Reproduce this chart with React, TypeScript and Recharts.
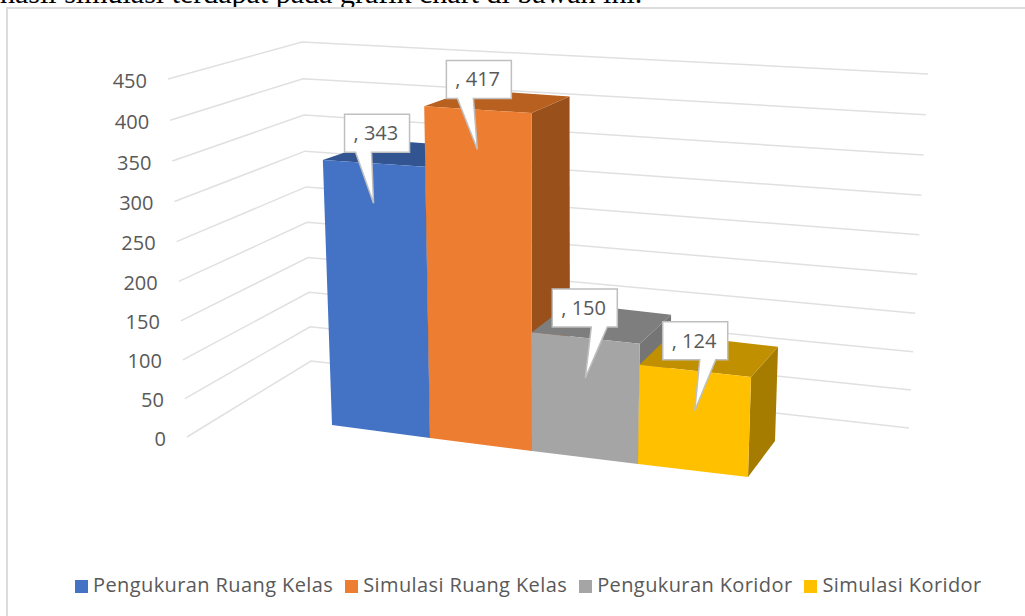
import { Bar, BarChart, CartesianGrid, LabelList, Legend, XAxis, YAxis } from "recharts"

const seriesNames = ["Pengukuran Ruang Kelas", "Simulasi Ruang Kelas", "Pengukuran Koridor", "Simulasi Koridor"]
const seriesValues = [343, 417, 150, 124]
const yTicks = [0, 50, 100, 150, 200, 250, 300, 350, 400, 450]

const frontColors = ["#4472C4", "#ED7D31", "#A5A5A5", "#FFC000"]
const topColors = ["#325591", "#B8601F", "#7E7E7E", "#C09000"]
const sideColors = ["#2A4778", "#99501A", "#757575", "#A67C00"]

// callout box offset from its pointer tip, per series
const calloutShift = [-29, -31, -33, -32]
const tailStart = [11, 11, 39, 37]

const yMax = 450
const textColor = "#595959"
const font = "'Open Sans', sans-serif"

const data = [
  seriesNames.reduce<Record<string, string | number>>(
    (row, name, i) => {
      row[name] = seriesValues[i]
      return row
    },
    { name: "" },
  ),
]

// the picture is a 3D perspective view, so flat scale positions get mapped onto it
const bend = (t: number) => 0.96 * t + 0.04 * t * t

const front = (u: number, t: number) => {
  const g = bend(t)
  return {
    x: 332 + 384 * u + 32 * u * u + (-12 + 23 * u) * t,
    y: 425 + 52 * u - (351 + 36 * u - 13 * u * u) * g,
  }
}

const back = (u: number, t: number) => {
  const p = front(u, t)
  return { x: p.x + 58 - 49 * u + 18 * u * u, y: p.y - (36 - 21 * t) }
}

const wallStart = (t: number) => ({ x: 187 - 19 * bend(t), y: 437 - 358 * bend(t) })
const wallCorner = (t: number) => ({ x: 311 - 9 * bend(t), y: 361 - 319 * bend(t) })
const wallEnd = (t: number) => ({ x: 909 + 19 * bend(t), y: 428 - 354 * bend(t) })

type Pt = { x: number; y: number }
const pts = (list: Pt[]) => list.map((p) => `${p.x},${p.y}`).join(" ")

function Bar3D(props: any) {
  const { height, background, series } = props
  const t = height / background.height
  const u0 = series / seriesNames.length
  const u1 = (series + 1) / seriesNames.length
  return (
    <g>
      <polygon
        points={pts([front(u1, t), front(u1, 0), back(u1, 0), back(u1, t)])}
        fill={sideColors[series]}
      />
      <polygon
        points={pts([front(u0, t), front(u1, t), back(u1, t), back(u0, t)])}
        fill={topColors[series]}
      />
      <polygon
        points={pts([front(u0, 0), front(u1, 0), front(u1, t), front(u0, t)])}
        fill={frontColors[series]}
      />
    </g>
  )
}

function Callout({ value, series }: any) {
  const u = (series + 0.5) / seriesNames.length
  const top = front(u, Number(value) / yMax)
  const tipX = top.x
  const tipY = top.y + 40
  const left = tipX + calloutShift[series]
  const boxTop = tipY - 89
  const bottom = boxTop + 38
  const right = left + 65
  const tail = left + tailStart[series]
  const d = `M${left},${boxTop} H${right} V${bottom} H${tail + 16} L${tipX},${tipY} L${tail},${bottom} H${left} Z`
  return (
    <g>
      <path d={d} fill="#fff" stroke="#bfbfbf" strokeWidth={1.5} />
      <text x={left + 9} y={boxTop + 26} fontSize={20} fontFamily={font} fill={textColor}>
        {`, ${value}`}
      </text>
    </g>
  )
}

function WallLine(props: any) {
  const { y, height, y1 } = props
  const t = (y + height - y1) / height
  return (
    <polyline
      points={pts([wallStart(t), wallCorner(t), wallEnd(t)])}
      fill="none"
      stroke="#e0e0e0"
      strokeWidth={1.5}
    />
  )
}

function WallTick({ payload }: any) {
  const p = wallStart(payload.value / yMax)
  return (
    <text x={p.x - 21} y={p.y + 8.5} textAnchor="end" fontSize={20} fontFamily={font} fill={textColor}>
      {payload.value}
    </text>
  )
}

export default function App() {
  return (
    <div style={{ position: "absolute", left: 0, top: 0, width: 1025, height: 616, overflow: "hidden", background: "#fff" }}>
      <div
        style={{
          position: "absolute",
          left: 0,
          top: -22,
          whiteSpace: "nowrap",
          fontFamily: "'Liberation Serif', serif",
          fontSize: 30,
          lineHeight: "30px",
          color: "#000",
        }}
      >
        hasil simulasi terdapat pada grafik chart di bawah ini.
      </div>
      <div
        style={{
          position: "absolute",
          left: 6,
          top: 7,
          width: 1100,
          height: 700,
          border: "2px solid #dcdcdc",
        }}
      />
      <div style={{ position: "absolute", left: 0, top: 0 }}>
        <BarChart
          width={1025}
          height={616}
          data={data}
          barCategoryGap={0}
          barGap={0}
          margin={{ top: 70, right: 270, bottom: 100, left: 260 }}
        >
          <CartesianGrid vertical={false} horizontal={(p: any) => <WallLine key={p.index} {...p} />} />
          <XAxis dataKey="name" hide />
          <YAxis
            width={60}
            domain={[0, yMax]}
            ticks={yTicks}
            axisLine={false}
            tickLine={false}
            tick={(p: any) => <WallTick {...p} />}
          />
          <Legend
            align="left"
            iconType="square"
            iconSize={13}
            itemSorter={null}
            wrapperStyle={{
              left: 75,
              top: 571,
              width: 950,
              fontFamily: font,
              fontSize: 20,
              letterSpacing: 0.4,
              whiteSpace: "nowrap",
            }}
            formatter={(value) => <span style={{ color: textColor, paddingLeft: 1, paddingRight: 2 }}>{value}</span>}
          />
          {seriesNames.map((name, i) => (
            <Bar
              key={name}
              dataKey={name}
              fill={frontColors[i]}
              isAnimationActive={false}
              shape={(p: any) => <Bar3D {...p} series={i} />}
            >
              <LabelList dataKey={name} content={(p: any) => <Callout value={p.value} series={i} />} />
            </Bar>
          ))}
        </BarChart>
      </div>
    </div>
  )
}
